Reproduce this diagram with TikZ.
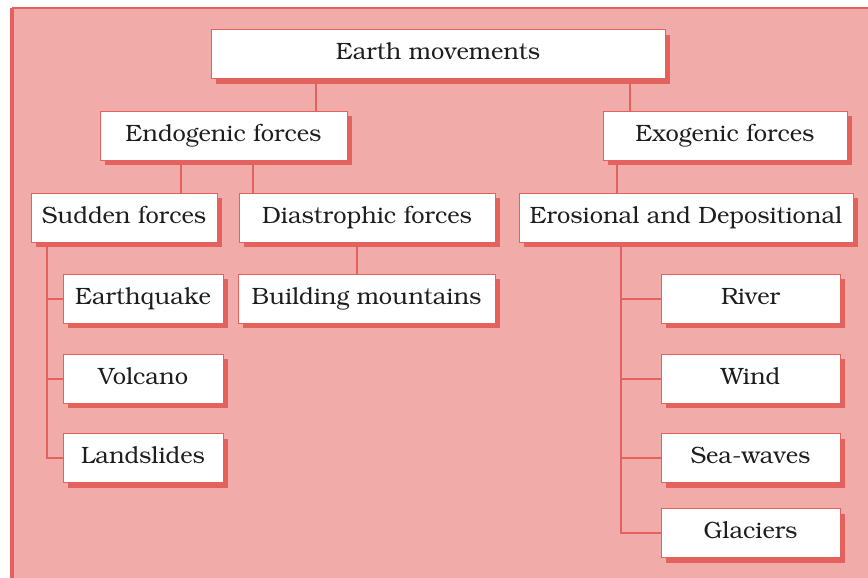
\documentclass[tikz,border=0pt]{standalone}
\usepackage[T1]{fontenc}
\usepackage{bookman}
\usepackage{xcolor}
\usepackage{tikz}
\usetikzlibrary{shadows}

\definecolor{bgpink}{RGB}{241,171,169}
\definecolor{linered}{RGB}{228,98,94}
\definecolor{txtgray}{RGB}{30,30,30}

\tikzset{
  box/.style={draw=linered, line width=0.5pt, fill=white, text=txtgray,
    minimum height=24.5pt, inner sep=0pt, text height=8.4pt, text depth=2.6pt,
    font=\fontsize{11.8}{13}\selectfont,
    drop shadow={shadow xshift=2.5pt, shadow yshift=-2.5pt, fill=linered, opacity=1}},
  link/.style={draw=linered, line width=1pt}
}

\begin{document}
\begin{tikzpicture}[x=0.5pt, y=-0.5pt]
    % page and frame
    \useasboundingbox (0,0) rectangle (868,578);
    \fill[bgpink] (12,8) rectangle (868,578);
    \draw[linered, line width=1.2pt] (868,8) -- (12,8);
    \draw[linered, line width=1.6pt] (12,8) -- (12,578);

    % top level
    \node[box, minimum width=227pt] (earth) at (438,54) {Earth movements};

    % second level
    \node[box, minimum width=123.5pt] (endo) at (223.5,135.5) {Endogenic forces};
    \node[box, minimum width=122pt] (exo) at (725,135.5) {Exogenic forces};

    % third level
    \node[box, minimum width=93pt] (sudden) at (124,217.5) {Sudden forces};
    \node[box, minimum width=128pt] (dias) at (367,217.5) {Diastrophic forces};
    \node[box, minimum width=167pt] (eros) at (686,217.5) {Erosional and Depositional};

    % leaves under sudden forces
    \node[box, minimum width=80pt] (quake) at (143,298.5) {Earthquake};
    \node[box, minimum width=80pt] (volcano) at (143,378.5) {Volcano};
    \node[box, minimum width=80pt] (slides) at (143,458) {Landslides};

    % leaf under diastrophic forces
    \node[box, minimum width=128.5pt] (mount) at (366.5,298.5) {Building mountains};

    % leaves under erosional and depositional
    \node[box, minimum width=89.5pt] (river) at (750.5,298.5) {River};
    \node[box, minimum width=89.5pt] (wind) at (750.5,378.5) {Wind};
    \node[box, minimum width=89.5pt] (sea) at (750.5,458) {Sea-waves};
    \node[box, minimum width=89.5pt] (glacier) at (750.5,533) {Glaciers};

    % connectors between levels
    \draw[link] ([xshift=46.25pt]endo.north) -- ([xshift=46.25pt]endo.north |- earth.south);
    \draw[link] ([xshift=-47.5pt]exo.north) -- ([xshift=-47.5pt]exo.north |- earth.south);
    \draw[link] ([xshift=28.5pt]sudden.north) -- ([xshift=28.5pt]sudden.north |- endo.south);
    \draw[link] ([xshift=-57pt]dias.north) -- ([xshift=-57pt]dias.north |- endo.south);
    \draw[link] ([xshift=-34.5pt]eros.north) -- ([xshift=-34.5pt]eros.north |- exo.south);
    \draw[link] ([xshift=-4.75pt]mount.north) -- ([xshift=-4.75pt]mount.north |- dias.south);

    % trunk for sudden forces
    \coordinate (strunk) at ([xshift=-38.5pt]sudden.south);
    \draw[link] (strunk) |- (slides.west);
    \draw[link] (quake.west) -- (quake.west -| strunk);
    \draw[link] (volcano.west) -- (volcano.west -| strunk);

    % trunk for erosional and depositional
    \coordinate (etrunk) at ([xshift=-32.5pt]eros.south);
    \draw[link] (etrunk) |- (glacier.west);
    \draw[link] (river.west) -- (river.west -| etrunk);
    \draw[link] (wind.west) -- (wind.west -| etrunk);
    \draw[link] (sea.west) -- (sea.west -| etrunk);
\end{tikzpicture}
\end{document}
